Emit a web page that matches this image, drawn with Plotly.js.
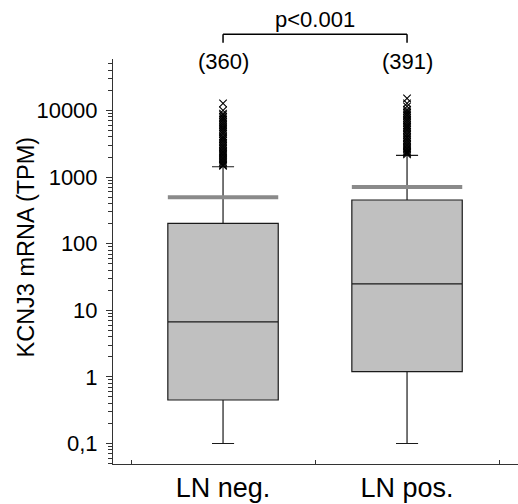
<!DOCTYPE html>
<html><head><meta charset="utf-8">
<script src="https://cdn.plot.ly/plotly-3.0.1.min.js"></script>
<style>html,body{margin:0;padding:0;background:#fff}</style>
</head><body><div id="chart" style="width:518px;height:504px"></div>
<script>
const groups = ['LN neg.', 'LN pos.'];
const counts = ['(360)', '(391)'];
const q1 = [0.45, 1.2];
const median = [6.7, 25];
const q3 = [202, 453];
const lowerWhisker = [0.1, 0.1];
const upperWhisker = [1430, 2120];
const means = [497, 710];
const outliersNeg = [12800, 10000, 9000, 8500, 8000, 7600, 7200, 6800, 6400, 6000, 5600, 5300, 5000, 4700, 4400, 4100, 3900, 3700, 3500, 3300, 3100, 2950, 2800, 2650, 2500, 2380, 2260, 2150, 2050, 1950, 1850, 1760, 1680, 1600, 1530, 1480];
const outliersPos = [15200, 12800, 11500, 10300, 9700, 9200, 8700, 8200, 7700, 7200, 6800, 6400, 6000, 5700, 5400, 5100, 4800, 4500, 4250, 4000, 3800, 3600, 3400, 3200, 3050, 2900, 2750, 2620, 2500, 2400, 2300, 2200];
const yTickVals = [0.1, 1, 10, 100, 1000, 10000];
const yTickText = ['0,1', '1', '10', '100', '1000', '10000'];
const pValueText = 'p<0.001';
const yTitle = 'KCNJ3 mRNA (TPM)';

const FONT = 'Liberation Sans, Arial, sans-serif';

const boxTrace = {
  type: 'box', x: groups, q1: q1, median: median, q3: q3,
  lowerfence: lowerWhisker, upperfence: upperWhisker,
  fillcolor: '#c0c0c0', line: {color: '#1a1a1a', width: 1.2},
  width: 0.6, whiskerwidth: 0.2, boxpoints: false, hoverinfo: 'skip'
};
const meanTrace = {
  type: 'box', x: groups, q1: means, median: means, q3: means,
  lowerfence: means, upperfence: means,
  fillcolor: 'rgba(0,0,0,0)', line: {color: '#8a8a8a', width: 4},
  width: 0.6, whiskerwidth: 0, boxpoints: false, hoverinfo: 'skip'
};
const outX = outliersNeg.map(() => groups[0]).concat(outliersPos.map(() => groups[1]));
const outY = outliersNeg.concat(outliersPos);
const outlierTrace = {
  type: 'scatter', mode: 'markers', x: outX, y: outY,
  marker: {symbol: 'x-thin-open', size: 7.5, color: '#000', line: {width: 1.1, color: '#000'}},
  hoverinfo: 'skip'
};

const annotations = groups.map((g, i) => ({
  xref: 'x', yref: 'paper', x: g, y: 0.9926, yanchor: 'middle',
  text: counts[i], showarrow: false, font: {family: FONT, size: 22, color: '#000'}
}));
annotations.push({
  xref: 'x', yref: 'paper', x: 0.5, y: 1.0963, yanchor: 'middle',
  text: pValueText, showarrow: false, font: {family: FONT, size: 22, color: '#000'}
});
annotations.push({
  xref: 'paper', yref: 'paper', x: -0.2148, y: 0.5346, xanchor: 'center', yanchor: 'middle',
  textangle: -90, text: yTitle, showarrow: false, font: {family: FONT, size: 23.5, color: '#000'}
});

const shapes = [
  {type: 'line', xref: 'x', yref: 'paper', x0: 0, x1: 1, y0: 1.061, y1: 1.061, line: {color: '#000', width: 1.5}},
  {type: 'line', xref: 'x', yref: 'paper', x0: 0, x1: 0, y0: 1.0402, y1: 1.061, line: {color: '#000', width: 1.5}},
  {type: 'line', xref: 'x', yref: 'paper', x0: 1, x1: 1, y0: 1.0402, y1: 1.061, line: {color: '#000', width: 1.5}}
];

const layout = {
  width: 518, height: 504,
  margin: {l: 113, r: 0, t: 59, b: 40},
  paper_bgcolor: '#fff', plot_bgcolor: '#fff',
  showlegend: false,
  font: {family: FONT, color: '#000'},
  boxmode: 'overlay',
  xaxis: {
    type: 'category', range: [-0.598, 1.603], tickson: 'boundaries',
    ticks: 'inside', ticklen: 4, tickcolor: '#333',
    showline: true, linecolor: '#333', linewidth: 1,
    showgrid: false, zeroline: false,
    tickfont: {family: FONT, size: 27, color: '#000'}
  },
  yaxis: {
    type: 'log', range: [-1.308, 4.773],
    tickmode: 'array', tickvals: yTickVals, ticktext: yTickText,
    ticks: 'outside', ticklen: 6, tickcolor: '#333',
    minor: {ticks: 'outside', ticklen: 4, tickcolor: '#333', dtick: 'D1', showgrid: false},
    showline: true, linecolor: '#333', linewidth: 1,
    showgrid: false, zeroline: false,
    ticklabelstandoff: 4,
    tickfont: {family: FONT, size: 22, color: '#000'}
  },
  annotations: annotations,
  shapes: shapes
};

Plotly.newPlot('chart', [boxTrace, meanTrace, outlierTrace], layout, {displayModeBar: false, staticPlot: true});
</script>
</body></html>
